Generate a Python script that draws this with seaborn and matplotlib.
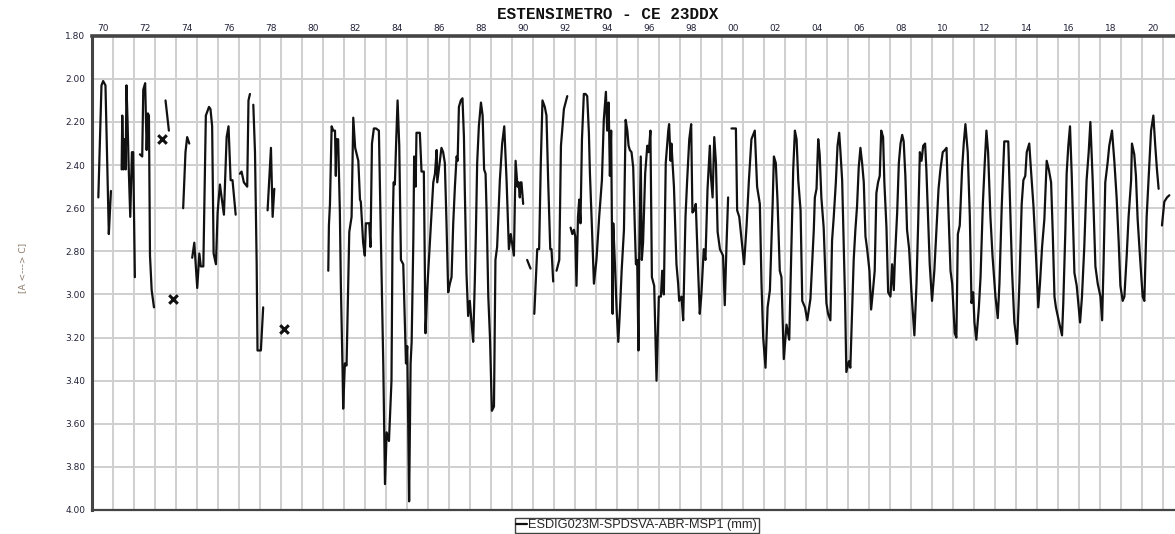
import numpy as np
import pandas as pd
import matplotlib
matplotlib.use('Agg')
import matplotlib.pyplot as plt
import seaborn as sns
from matplotlib.lines import Line2D

nan = np.nan

# readings: decimal year / extensometer value (mm), nan = gap in the record
dates_70s = [1970.29, 1970.44, 1970.52, 1970.63, 1970.79, 1970.84, 1970.89, nan,
             1971.40, 1971.43, 1971.48, 1971.54, 1971.59, 1971.63, 1971.68, 1971.73, 1971.81, 1971.89, 1971.95, 1972.03, nan,
             1972.27, 1972.38, 1972.43, 1972.52, 1972.59, 1972.65, 1972.70, 1972.75, 1972.83, 1972.94, nan,
             1973.49, 1973.65, nan,
             1974.33, 1974.44, 1974.52, 1974.62, nan,
             1974.76, 1974.86, 1975.00, 1975.10, 1975.17, 1975.29, 1975.41, 1975.56, 1975.63, 1975.71, 1975.78,
             1975.89, 1975.97, 1976.08, 1976.27, 1976.40, 1976.49, 1976.59, 1976.68, 1976.83, nan,
             1977.03, 1977.11, 1977.22, 1977.38, 1977.44, 1977.51, nan,
             1977.67, 1977.75, 1977.83, 1977.87, 1978.03, 1978.14, nan,
             1978.35, 1978.51, 1978.59, 1978.67, nan]
mm_70s = [2.55, 2.03, 2.01, 2.03, 2.72, 2.62, 2.52, nan,
          2.42, 2.17, 2.42, 2.28, 2.42, 2.03, 2.19, 2.39, 2.64, 2.34, 2.34, 2.92, nan,
          2.35, 2.36, 2.05, 2.02, 2.33, 2.16, 2.17, 2.82, 2.98, 3.06, nan,
          2.10, 2.24, nan,
          2.60, 2.34, 2.27, 2.30, nan,
          2.83, 2.76, 2.97, 2.81, 2.87, 2.87, 2.17, 2.13, 2.14, 2.22, 2.81,
          2.86, 2.62, 2.49, 2.63, 2.27, 2.22, 2.47, 2.47, 2.63, nan,
          2.44, 2.43, 2.48, 2.50, 2.10, 2.07, nan,
          2.12, 2.34, 2.86, 3.26, 3.26, 3.06, nan,
          2.61, 2.32, 2.64, 2.51, nan]

dates_80s = [1981.24, 1981.27, 1981.32, 1981.40, 1981.48, 1981.56, 1981.60, 1981.63, 1981.71, 1981.79, 1981.84,
             1981.92, 1981.95, 1982.03, 1982.11, 1982.24, 1982.35, 1982.43, 1982.52, 1982.67, 1982.75, 1982.79,
             1982.90, 1982.98, 1983.03, 1983.19, 1983.25, 1983.32, 1983.41, 1983.51, 1983.65, 1983.78, 1983.86,
             1983.94, 1984.02, 1984.13, 1984.25, 1984.30, 1984.35, 1984.41, 1984.48, 1984.54, 1984.62, 1984.70,
             1984.81, 1984.94, 1985.00, 1985.05, 1985.09, 1985.16, 1985.21, 1985.29, 1985.33, 1985.40, 1985.44,
             1985.60, 1985.68, 1985.79, 1985.87, 1985.95, 1986.24, 1986.32, 1986.40, 1986.43, 1986.63, 1986.71,
             1986.79, 1986.87, 1986.95, 1987.03, 1987.11, 1987.19, 1987.27, 1987.35, 1987.40, 1987.46, 1987.55,
             1987.63, 1987.70, 1987.74, 1987.82, 1987.90, 1987.98, 1988.06, 1988.14, 1988.22, 1988.27, 1988.33,
             1988.41, 1988.51, 1988.59, 1988.66, 1988.73, 1988.78, 1988.86, 1988.94, 1989.03, 1989.13, 1989.20,
             1989.28, 1989.41, 1989.52, 1989.62, 1989.73, 1989.84, 1989.93, 1990.08, 1990.16, 1990.25, 1990.30,
             1990.36, 1990.40, 1990.44, 1990.52, nan,
             1990.71, 1990.87, nan,
             1991.05, 1991.19, 1991.28, 1991.36, 1991.44, 1991.55, 1991.63, 1991.71, 1991.81, 1991.87, 1991.95, nan,
             1992.11, 1992.24, 1992.32, 1992.46, 1992.62, nan]
mm_80s = [2.89, 2.68, 2.58, 2.22, 2.24, 2.24, 2.45, 2.28, 2.28, 2.61, 2.96,
          3.35, 3.53, 3.32, 3.33, 2.71, 2.64, 2.18, 2.32, 2.38, 2.56, 2.57,
          2.76, 2.82, 2.67, 2.67, 2.78, 2.30, 2.23, 2.23, 2.24, 2.92, 3.33,
          3.88, 3.64, 3.68, 3.40, 2.73, 2.48, 2.49, 2.27, 2.10, 2.31, 2.84,
          2.86, 3.32, 3.24, 3.63, 3.96, 3.32, 3.22, 2.75, 2.36, 2.50, 2.25,
          2.25, 2.43, 2.43, 3.18, 2.98, 2.48, 2.44, 2.33, 2.48, 2.32, 2.34,
          2.39, 2.67, 2.99, 2.95, 2.92, 2.67, 2.50, 2.36, 2.38, 2.13, 2.10,
          2.09, 2.27, 2.51, 2.90, 3.10, 3.03, 3.13, 3.22, 2.93, 2.71, 2.39,
          2.22, 2.11, 2.17, 2.42, 2.44, 2.62, 3.01, 3.20, 3.54, 3.52, 2.84,
          2.78, 2.47, 2.30, 2.22, 2.47, 2.79, 2.72, 2.82, 2.38, 2.50, 2.48,
          2.55, 2.48, 2.48, 2.58, nan,
          2.84, 2.88, nan,
          3.09, 2.79, 2.79, 2.39, 2.10, 2.13, 2.17, 2.47, 2.79, 2.79, 2.94, nan,
          2.89, 2.84, 2.31, 2.14, 2.08, nan]

dates_90s = [1992.78, 1992.86, 1992.94, 1993.00, 1993.06, 1993.13, 1993.19, 1993.25, 1993.32, 1993.41, 1993.49,
             1993.57, 1993.65, 1993.70, 1993.78, 1993.89, 1994.01, 1994.14, 1994.27, 1994.36, 1994.46, 1994.52,
             1994.59, 1994.65, 1994.71, 1994.78, 1994.81, 1994.89, 1994.97, 1995.05, 1995.13, 1995.21, 1995.32,
             1995.40, 1995.48, 1995.54, 1995.60, 1995.68, 1995.76, 1995.84, 1995.89, 1995.95, 1996.01, 1996.04,
             1996.12, 1996.17, 1996.23, 1996.33, 1996.43, 1996.50, 1996.58, 1996.65, 1996.76, 1996.87, 1996.98,
             1997.08, 1997.14, 1997.22, 1997.31, 1997.43, 1997.47, 1997.54, 1997.58, 1997.70, 1997.82, 1997.90,
             1997.95, 1998.06, 1998.14, 1998.25, 1998.33, 1998.43, 1998.52, 1998.58, 1998.66, 1998.74, 1998.84,
             1998.93, 1999.00, 1999.12, 1999.20, 1999.30, 1999.41, 1999.46, 1999.54, 1999.62, 1999.70, 1999.78,
             1999.89, 2000.04, 2000.12, 2000.20, 2000.28, nan]
mm_90s = [2.69, 2.72, 2.70, 2.73, 2.96, 2.64, 2.56, 2.67, 2.28, 2.07, 2.07,
          2.08, 2.25, 2.44, 2.65, 2.95, 2.84, 2.64, 2.47, 2.19, 2.06, 2.24,
          2.11, 2.45, 2.24, 3.09, 2.67, 2.86, 3.07, 3.22, 3.07, 2.89, 2.70,
          2.19, 2.24, 2.31, 2.33, 2.34, 2.41, 2.70, 2.86, 2.84, 3.26, 2.86,
          2.36, 2.84, 2.76, 2.44, 2.31, 2.34, 2.24, 2.92, 2.96, 3.40, 3.01,
          3.01, 2.89, 3.00, 2.39, 2.24, 2.21, 2.38, 2.30, 2.50, 2.86, 2.95,
          3.03, 3.01, 3.12, 2.64, 2.47, 2.28, 2.21, 2.62, 2.61, 2.58, 2.86,
          3.09, 3.01, 2.79, 2.84, 2.51, 2.31, 2.45, 2.55, 2.27, 2.39, 2.71,
          2.79, 2.82, 3.05, 2.78, 2.55, nan]

dates_00s = [2000.44, 2000.65, 2000.71, 2000.81, 2001.00, 2001.04, 2001.16, 2001.27, 2001.39, 2001.55, 2001.66,
             2001.79, 2001.87, 2001.95, 2002.06, 2002.16, 2002.27, 2002.40, 2002.46, 2002.55, 2002.63, 2002.74,
             2002.82, 2002.93, 2003.06, 2003.19, 2003.30, 2003.38, 2003.46, 2003.54, 2003.62, 2003.73, 2003.81,
             2003.94, 2004.05, 2004.20, 2004.28, 2004.36, 2004.41, 2004.49, 2004.57, 2004.64, 2004.72, 2004.83,
             2004.96, 2005.04, 2005.15, 2005.23, 2005.31, 2005.41, 2005.49, 2005.57, 2005.63, 2005.71, 2005.79,
             2005.85, 2005.91, 2006.03, 2006.10, 2006.18, 2006.26, 2006.34, 2006.42, 2006.50, 2006.58, 2006.66,
             2006.74, 2006.82, 2006.90, 2007.01, 2007.09, 2007.17, 2007.26, 2007.34, 2007.42, 2007.50, 2007.57,
             2007.66, 2007.72, 2007.82, 2007.90, 2008.01, 2008.09, 2008.17, 2008.22, 2008.33, 2008.41, 2008.49,
             2008.57, 2008.64, 2008.72, 2008.80, 2008.90, 2009.01, 2009.15, 2009.25, 2009.33, 2009.41, 2009.49,
             2009.57, 2009.66, 2009.72, 2009.80, 2009.88, 2009.99]
mm_00s = [2.23, 2.23, 2.61, 2.64, 2.82, 2.86, 2.68, 2.47, 2.28, 2.24, 2.50,
          2.58, 2.95, 3.20, 3.34, 3.06, 2.98, 2.58, 2.36, 2.39, 2.56, 2.89,
          2.92, 3.30, 3.14, 3.21, 2.76, 2.42, 2.24, 2.28, 2.47, 2.61, 3.03,
          3.06, 3.12, 3.02, 2.86, 2.70, 2.55, 2.51, 2.28, 2.35, 2.55, 2.69,
          3.04, 3.09, 3.12, 2.75, 2.64, 2.48, 2.31, 2.25, 2.34, 2.47, 2.78,
          3.03, 3.36, 3.31, 3.34, 3.09, 2.84, 2.70, 2.59, 2.41, 2.32, 2.39,
          2.48, 2.73, 2.79, 2.89, 3.07, 2.99, 2.89, 2.53, 2.48, 2.45, 2.24,
          2.27, 2.48, 2.69, 2.99, 3.01, 2.86, 2.98, 2.84, 2.62, 2.39, 2.30,
          2.26, 2.29, 2.45, 2.70, 2.79, 2.99, 3.19, 2.95, 2.67, 2.34, 2.38,
          2.31, 2.30, 2.42, 2.64, 2.86, 3.03]

dates_10s = [2010.10, 2010.20, 2010.30, 2010.39, 2010.50, 2010.60, 2010.68, 2010.75, 2010.87, 2010.95, 2011.07,
             2011.15, 2011.22, 2011.31, 2011.42, 2011.50, 2011.58, 2011.69, 2011.79, 2011.87, 2011.95, 2012.01,
             2012.10, 2012.22, 2012.30, 2012.41, 2012.50, 2012.58, 2012.66, 2012.77, 2012.87, 2013.01, 2013.12,
             2013.20, 2013.31, 2013.43, 2013.62, 2013.70, 2013.80, 2013.91, 2014.04, 2014.15, 2014.26, 2014.34,
             2014.43, 2014.50, 2014.62, 2014.70, 2014.82, 2014.94, 2015.05, 2015.13, 2015.23, 2015.34, 2015.45,
             2015.55, 2015.66, 2015.74, 2015.82, 2015.89, 2016.02, 2016.18, 2016.24, 2016.34, 2016.40, 2016.48,
             2016.56, 2016.64, 2016.77, 2016.88, 2017.04, 2017.13, 2017.24, 2017.35, 2017.45, 2017.53, 2017.64,
             2017.77, 2017.88, 2018.01, 2018.09, 2018.16, 2018.24, 2018.35, 2018.43, 2018.56, 2018.67, 2018.78,
             2018.88, 2018.96, 2019.07, 2019.15, 2019.26, 2019.35, 2019.47, 2019.51, 2019.62, 2019.70, 2019.78,
             2019.89, 2020.02, 2020.10, 2020.21, 2020.31, 2020.42, 2020.53, 2020.62, 2020.70, 2020.78, nan,
             2020.94, 2021.05, 2021.18, 2021.29]
mm_10s = [2.89, 2.70, 2.51, 2.42, 2.34, 2.33, 2.32, 2.55, 2.89, 2.95, 3.18,
          3.20, 2.72, 2.68, 2.42, 2.30, 2.21, 2.34, 2.64, 3.04, 2.99, 3.13,
          3.21, 3.06, 2.92, 2.58, 2.39, 2.24, 2.34, 2.64, 2.82, 3.01, 3.11,
          2.95, 2.59, 2.29, 2.29, 2.55, 2.89, 3.13, 3.23, 2.95, 2.58, 2.47,
          2.45, 2.34, 2.30, 2.42, 2.59, 2.82, 3.06, 2.95, 2.78, 2.65, 2.38,
          2.42, 2.48, 2.72, 3.01, 3.06, 3.12, 3.19, 3.04, 2.70, 2.44, 2.31,
          2.22, 2.44, 2.90, 2.96, 3.13, 3.01, 2.78, 2.47, 2.34, 2.20, 2.47,
          2.87, 2.95, 3.01, 3.12, 2.85, 2.48, 2.39, 2.31, 2.24, 2.38, 2.55,
          2.76, 2.96, 3.03, 3.01, 2.82, 2.64, 2.47, 2.30, 2.35, 2.45, 2.65,
          2.82, 3.01, 3.03, 2.64, 2.45, 2.24, 2.17, 2.31, 2.42, 2.51, nan,
          2.68, 2.57, 2.55, 2.54]

# isolated readings drawn as crosses
single_dates = [1973.30, 1973.83, 1979.13]
single_mm = [2.28, 3.02, 3.16]

y_ticks = [1.8, 2.0, 2.2, 2.4, 2.6, 2.8, 3.0, 3.2, 3.4, 3.6, 3.8, 4.0]
label_years = list(range(1970, 2021, 2))
series_name = 'ESDIG023M-SPDSVA-ABR-MSP1 (mm)'

dates = dates_70s + dates_80s + dates_90s + dates_00s + dates_10s
values = mm_70s + mm_80s + mm_90s + mm_00s + mm_10s
df = pd.DataFrame({'date': dates, 'mm': values})
df['seg'] = df['mm'].isna().cumsum()
df = df.dropna()

sns.set_style('white')
plt.rcParams['font.family'] = ['DejaVu Sans']

fig = plt.figure(figsize=(11.75, 5.34), dpi=100)
ax = fig.add_axes([0.0785, 0.045, 0.9215, 0.888])

# year grid (year boundaries) and value grid
for yr in range(1971, 2022):
    ax.axvline(yr, color='#cfcfcf', lw=1.4, zorder=0)
for v in y_ticks:
    ax.axhline(v, color='#cfcfcf', lw=1.4, zorder=0)

sns.lineplot(data=df, x='date', y='mm', units='seg', estimator=None, sort=False,
             color='#111111', lw=1.6, ax=ax, legend=False)
sns.scatterplot(x=single_dates, y=single_mm, marker='x', s=38, color='#111111',
                linewidth=2.2, ax=ax, zorder=5)

ax.set_xlim(1970.0, 2021.56)
ax.set_ylim(4.0, 1.8)
ax.set_xlabel('')
ax.set_ylabel('')

ax.xaxis.tick_top()
ax.set_xticks([yr + 0.5 for yr in label_years])
ax.set_xticklabels(['%02d' % (yr % 100) for yr in label_years])
ax.tick_params(axis='x', length=0, pad=2, labelsize=6.5, labelcolor='#22223a')
ax.set_yticks(y_ticks)
ax.set_yticklabels(['%.2f' % v for v in y_ticks])
ax.tick_params(axis='y', length=3, width=1, pad=2, labelsize=6.5, labelcolor='#22223a', color='#333333')

for side in ['top', 'left', 'bottom']:
    ax.spines[side].set_color('#444444')
ax.spines['top'].set_linewidth(2.6)
ax.spines['left'].set_linewidth(2.2)
ax.spines['bottom'].set_linewidth(1.6)
ax.spines['right'].set_visible(False)

fig.text(0.517, 0.973, 'ESTENSIMETRO - CE 23DDX', ha='center', va='center',
         family='Liberation Mono', fontweight='bold', fontsize=11.5, color='#111111')
fig.text(0.019, 0.498, '[A <---> C]', rotation=90, ha='center', va='center',
         fontsize=6.5, color='#8a7a6a')

handle = Line2D([0], [0], color='#111111', lw=1.6)
leg = fig.legend([handle], [series_name], loc='center', bbox_to_anchor=(0.542, 0.0165),
                 frameon=True, fancybox=False, handlelength=0.8, handletextpad=0.15,
                 borderpad=0.12, borderaxespad=0,
                 prop={'family': 'Liberation Sans', 'size': 9.2})
leg.get_frame().set_edgecolor('#111111')
leg.get_frame().set_linewidth(1.0)

fig.savefig('out.png', dpi=100)
